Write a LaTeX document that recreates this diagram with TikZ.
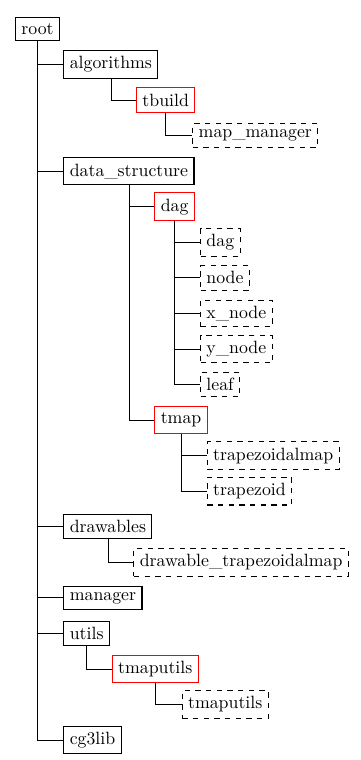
\documentclass[tikz,border=0pt]{standalone}
\usepackage{tikz}
\usetikzlibrary{arrows}

\tikzset{
  folder/.style={draw,semithick,anchor=west},
  module/.style={draw=red,semithick,anchor=west},
  srcfile/.style={draw,dashed,semithick,anchor=west},
}

\begin{document}
\begin{tikzpicture}
  \useasboundingbox (0,0) rectangle (7.115,-15.02);

  \node (root) [folder] at (0.296,-0.573) {root};

  % first level
  \node (alg) [folder] at (1.252,-1.276) {algorithms};
  \node (ds) [folder] at (1.252,-3.384) {data\_structure};
  \node (drw) [folder] at (1.252,-10.410) {drawables};
  \node (mgr) [folder] at (1.252,-11.815) {manager};
  \node (utils) [folder] at (1.252,-12.518) {utils};
  \node (cg3) [folder] at (1.252,-14.625) {cg3lib};

  % modules
  \node (tbuild) [module] at (2.688,-1.978) {tbuild};
  \node (dagdir) [module] at (3.050,-4.086) {dag};
  \node (tmap) [module] at (3.050,-8.302) {tmap};
  \node (tmu) [module] at (2.207,-13.220) {tmaputils};

  % files
  \node (mapmgr) [srcfile] at (3.800,-2.681) {map\_manager};
  \node (dag) [srcfile] at (3.953,-4.789) {dag};
  \node (dagnode) [srcfile] at (3.953,-5.491) {node};
  \node (xnode) [srcfile] at (3.953,-6.194) {x\_node};
  \node (ynode) [srcfile] at (3.953,-6.897) {y\_node};
  \node (leaf) [srcfile] at (3.953,-7.599) {leaf};
  \node (trapmap) [srcfile] at (4.084,-9.005) {trapezoidalmap};
  \node (trap) [srcfile] at (4.084,-9.707) {trapezoid};
  \node (drwtrap) [srcfile] at (2.635,-11.112) {drawable\_trapezoidalmap};
  \node (tmufile) [srcfile] at (3.590,-13.923) {tmaputils};

  \foreach \c in {alg,ds,drw,mgr,utils,cg3}
    \draw (root.south) |- (\c.west);
  \draw (alg.south) |- (tbuild.west);
  \draw (tbuild.south) |- (mapmgr.west);
  \draw (ds.south) |- (dagdir.west);
  \draw (ds.south) |- (tmap.west);
  \foreach \c in {dag,dagnode,xnode,ynode,leaf}
    \draw (dagdir.south) |- (\c.west);
  \draw (tmap.south) |- (trapmap.west);
  \draw (tmap.south) |- (trap.west);
  \draw (drw.south) |- (drwtrap.west);
  \draw (utils.south) |- (tmu.west);
  \draw (tmu.south) |- (tmufile.west);
\end{tikzpicture}
\end{document}
